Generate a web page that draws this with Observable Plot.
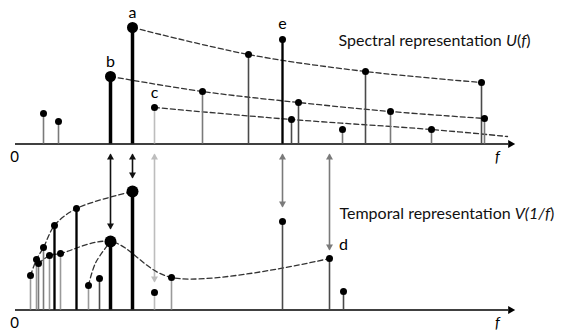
<!DOCTYPE html>
<html><head><meta charset="utf-8">
<script src="https://cdn.jsdelivr.net/npm/d3@7"></script>
<script src="https://cdn.jsdelivr.net/npm/@observablehq/plot@0.6"></script>
<style>body{margin:0;background:#fff}#chart{width:561px;height:330px}</style>
</head><body><div id="chart"></div>
<script>
// Spectral representation U(f): frequency, amplitude, tone
const topF    = [43, 58, 110, 132, 154, 202, 248, 282, 291, 298, 342, 365, 390, 431, 481, 484];
const topU    = [30.5, 22.5, 67.5, 116.5, 36.5, 52.5, 89.5, 104.5, 24.5, 41.5, 14.5, 72.5, 32.5, 14.5, 61.5, 25.5];
const topTone = ["mid","mid","main","main","faint","mid","dark","black","dark","dark","mid","dark","mid","mid","dark","mid"];

// Temporal representation V(1/f)
const botF    = [30, 36, 38, 43, 49, 54, 60, 76, 88, 99, 110, 132, 154, 171, 282, 329, 343];
const botV    = [34.5, 50.5, 46.5, 62.5, 54.5, 84.5, 56.5, 101.5, 24.5, 31.5, 68.5, 118.5, 17.5, 32.5, 88.5, 51.5, 18.5];
const botTone = ["light","light","mid","mid","light","black","light","black","light","dark","main","main","faint","light","dark","dark","dark"];

// dashed envelopes (series, f, amplitude)
const topCurveId = ["a","a","a","a","b","b","b","b","b","c","c","c","c"];
const topCurveF  = [132, 248, 365, 481, 110, 202, 298, 390, 484, 154, 291, 431, 507];
const topCurveU  = [116.5, 89.5, 72.5, 61.5, 67.5, 52.5, 41.5, 32.5, 25.5, 36.5, 24.5, 14.5, 7.5];
const botCurveId = ["u","u","u","u","u","u","l","l","l","l","l","l","s","s","s"];
const botCurveF  = [30, 36, 43, 54, 76, 132, 38, 49, 60, 110, 171, 329, 88, 95, 110];
const botCurveV  = [34.5, 50.5, 62.5, 84.5, 101.5, 118.5, 46.5, 54.5, 56.5, 68.5, 32.5, 51.5, 24.5, 47, 68.5];

// labelled components
const labelName  = ["a", "b", "c", "e", "d"];
const labelPanel = ["top", "top", "top", "top", "bottom"];
const labelF     = [132, 110, 154, 282, 329];

// correspondence arrows between the panels
const arrowF    = [110, 132, 154, 282, 329];
const arrowTopU = [-10.5, -10.5, -10.5, -10.5, -10.5];
const arrowBotV = [81.5, 132.5, 28.5, 103.5, 60.5];
const arrowTone = ["black", "black", "faint", "mid", "mid"];

const titles = ["Spectral representation U(f)", "Temporal representation V(1/f)"];

// ---- layout constants (plot units) ----
const topBase = 186.5, botBase = 20.5;
const axisStart = 15, axisEnd = 510;

const toneDomain = ["main","black","dark","mid","light","faint"];
const toneRange  = ["#000","#111","#4a4a4a","#7a7a7a","#9a9a9a","#bdbdbd"];

const stems = [
  ...topF.map((f, i) => ({f, y: topBase + topU[i], base: topBase, tone: topTone[i]})),
  ...botF.map((f, i) => ({f, y: botBase + botV[i], base: botBase, tone: botTone[i]}))
];
const curves = [
  ...topCurveF.map((f, i) => ({f, y: topBase + topCurveU[i], id: "t" + topCurveId[i]})),
  ...botCurveF.map((f, i) => ({f, y: botBase + botCurveV[i], id: "b" + botCurveId[i]}))
];
const labels = labelName.map((name, i) => {
  const f = labelF[i];
  const s = stems.find(d => d.f === f && d.base === (labelPanel[i] === "top" ? topBase : botBase));
  return {name, f, y: s.y, panel: labelPanel[i]};
});
const arrows = arrowF.map((f, i) => ({f, y1: topBase + arrowTopU[i], y2: botBase + arrowBotV[i], tone: arrowTone[i]}));
const heads = arrows.flatMap(a => [
  {f: a.f, y: a.y1 - 3, rot: 0, tone: a.tone},
  {f: a.f, y: a.y2 + 3, rot: 180, tone: a.tone}
]);
const axes = [topBase, botBase];

const plot = Plot.plot({
  width: 561, height: 330,
  margin: 0,
  x: {domain: [0, 561], range: [0, 561], axis: null},
  y: {domain: [0, 330], range: [330, 0], axis: null},
  color: {type: "ordinal", domain: toneDomain, range: toneRange},
  style: {fontFamily: "Lato, 'Open Sans', sans-serif", background: "#fff"},
  marks: [
    // axes
    Plot.ruleY(axes, {y: d => d, x1: axisStart, x2: axisEnd - 2, stroke: "#000", strokeWidth: 1.6}),
    Plot.dot(axes, {x: axisEnd, y: d => d, symbol: "triangle", rotate: 90, r: 3, fill: "#000", stroke: null}),
    Plot.text(axes, {x: 14, y: d => d, dy: 13, text: () => "0", fontSize: 15, fill: "#000"}),
    Plot.text(axes, {x: 497, y: d => d, dy: 13, text: () => "f", fontSize: 15, fontStyle: "italic", fill: "#000"}),
    // arrows
    Plot.link(arrows, {x1: "f", x2: "f", y1: "y1", y2: "y2", stroke: "tone", strokeWidth: 1.6}),
    Plot.dot(heads, {x: "f", y: "y", symbol: "triangle", rotate: "rot", r: 2.6, fill: "tone", stroke: null}),
    // dashed envelopes
    Plot.line(curves, {x: "f", y: "y", z: "id", curve: "catmull-rom", stroke: "#333", strokeWidth: 1.3, strokeDasharray: "5,3"}),
    // stems
    Plot.ruleX(stems.filter(d => d.tone !== "main"), {x: "f", y1: "base", y2: "y", stroke: "tone", strokeWidth: 1.6}),
    Plot.ruleX(stems.filter(d => d.tone === "black"), {x: "f", y1: "base", y2: "y", stroke: "tone", strokeWidth: 2.1}),
    Plot.ruleX(stems.filter(d => d.tone === "main"), {x: "f", y1: "base", y2: "y", stroke: "tone", strokeWidth: 3.5}),
    Plot.dot(stems.filter(d => d.tone !== "main"), {x: "f", y: "y", r: 3.5, fill: "#000", stroke: null}),
    Plot.dot(stems.filter(d => d.tone === "main" && d.base === topBase), {x: "f", y: "y", r: 5.5, fill: "#000", stroke: null}),
    Plot.dot(stems.filter(d => d.tone === "main" && d.base === botBase), {x: "f", y: "y", r: 6, fill: "#000", stroke: null}),
    // component labels
    Plot.text(labels.filter(d => d.panel === "top" && d.name !== "e"), {x: "f", y: "y", text: "name", dy: -15, fontSize: 16, fill: "#000"}),
    Plot.text(labels.filter(d => d.name === "e"), {x: "f", y: "y", text: "name", dy: -16, fontSize: 16, fill: "#000"}),
    Plot.text(labels.filter(d => d.panel === "bottom"), {x: "f", y: "y", text: "name", dx: 14, dy: -14, fontSize: 16, fill: "#000"}),
    // panel titles
    Plot.text([titles[0]], {x: 338, y: topBase + 103.5, text: d => d, textAnchor: "start", fontSize: 16, fill: "#111"}),
    Plot.text([titles[1]], {x: 339, y: botBase + 96.5, text: d => d, textAnchor: "start", fontSize: 16, fill: "#111"})
  ]
});
// italic math parts
plot.querySelectorAll("text").forEach(t => {
  if (t.textContent === titles[0]) t.innerHTML = 'Spectral representation <tspan font-style="italic">U</tspan>(<tspan font-style="italic">f</tspan>)';
  if (t.textContent === titles[1]) t.innerHTML = 'Temporal representation <tspan font-style="italic">V(1/f</tspan>)';
});
document.getElementById("chart").appendChild(plot);
</script>
</body></html>
